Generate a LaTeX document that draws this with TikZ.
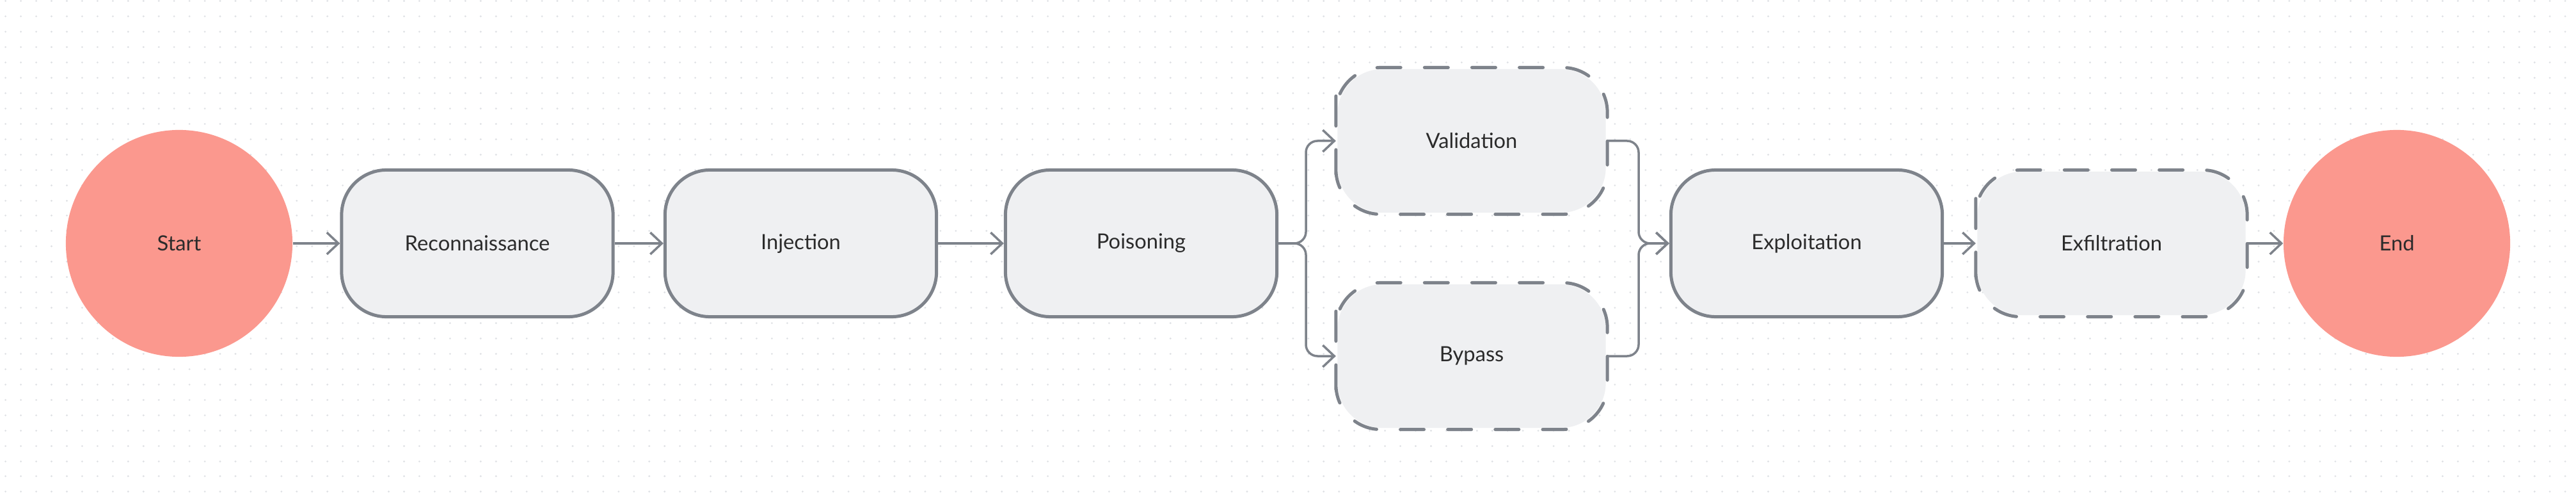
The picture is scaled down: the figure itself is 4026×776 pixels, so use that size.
\documentclass[tikz,border=0pt]{standalone}
\usepackage{fontspec}
\setmainfont{Lato}
\usetikzlibrary{arrows.meta}

\definecolor{edgegray}{HTML}{7E838B}
\definecolor{boxfill}{HTML}{EFF0F2}
\definecolor{termfill}{HTML}{FB988E}
\definecolor{dotgray}{HTML}{DFE1E5}
\definecolor{labeltext}{HTML}{2B2B2B}

\tikzset{
  labelfont/.style={text=labeltext, font=\fontsize{9.3}{11}\selectfont},
  stage/.style={rectangle, rounded corners=0.7cm, draw=edgegray, line width=0.05cm,
    fill=boxfill, minimum width=4.24cm, minimum height=2.29cm, labelfont},
  optstage/.style={rectangle, rounded corners=0.7cm, draw=none, line width=0.05cm,
    fill=boxfill, minimum width=4.19cm, minimum height=2.24cm, labelfont},
  terminal/.style={circle, fill=termfill, minimum size=3.54cm, inner sep=0pt, labelfont},
  flow/.style={draw=edgegray, line width=0.035cm, -{Straight Barb[length=0.18cm, width=0.34cm]}},
  dashedge/.style={draw=edgegray, line width=0.05cm, line cap=round, rounded corners=0.7cm,
    dash pattern=on 0.37cm off 0.371cm, dash phase=0.185cm},
  dotgrid/.style={draw=dotgray, line width=0.03cm, line cap=round,
    dash pattern=on 0.001cm off 0.2384cm}
}

\begin{document}
\begin{tikzpicture}[x=0.01cm, y=-0.01cm]
  % canvas
  \useasboundingbox (0,0) rectangle (4026,776);
  \fill[white] (0,0) rectangle (4026,776);
  \foreach \r in {0,...,32}
    \draw[dotgrid] (8.6,{1.8+23.94*\r}) -- (4026,{1.8+23.94*\r});

  % stages
  \node[terminal] (start) at (280,380) {Start};
  \node[stage] (recon) at (746,380) {Reconnaissance};
  \node[stage] (inject) at (1251.5,380) {Injection};
  \node[stage] (poison) at (1783.5,380) {Poisoning};
  \node[optstage] (valid) at (2300,220) {Validation};
  \node[optstage] (bypass) at (2300,556) {Bypass};
  \node[stage] (exploit) at (2823.5,380) {Exploitation};
  \node[optstage] (exfil) at (3300,380) {Exfiltration};
  \node[terminal] (finish) at (3746,380) {End};

  % dashed outlines
  \foreach \n in {valid,bypass,exfil}
    \draw[dashedge] (\n.west) -- (\n.north west) -- (\n.north east)
      -- (\n.south east) -- (\n.south west) -- cycle;

  % bends
  \coordinate (split) at (2041,380);
  \coordinate (merge) at (2561,380);

  % flow
  \draw[flow] (start) -- (recon);
  \draw[flow] (recon) -- (inject);
  \draw[flow] (inject) -- (poison);
  \draw[flow, rounded corners=0.18cm] (poison.east) -- (split) |- (valid.west);
  \draw[flow, rounded corners=0.18cm] (poison.east) -- (split) |- (bypass.west);
  \draw[flow, rounded corners=0.18cm] (valid.east) -| (merge) -- (exploit.west);
  \draw[flow, rounded corners=0.18cm] (bypass.east) -| (merge) -- (exploit.west);
  \draw[flow] (exploit) -- (exfil);
  \draw[flow] (exfil) -- (finish);
\end{tikzpicture}
\end{document}
